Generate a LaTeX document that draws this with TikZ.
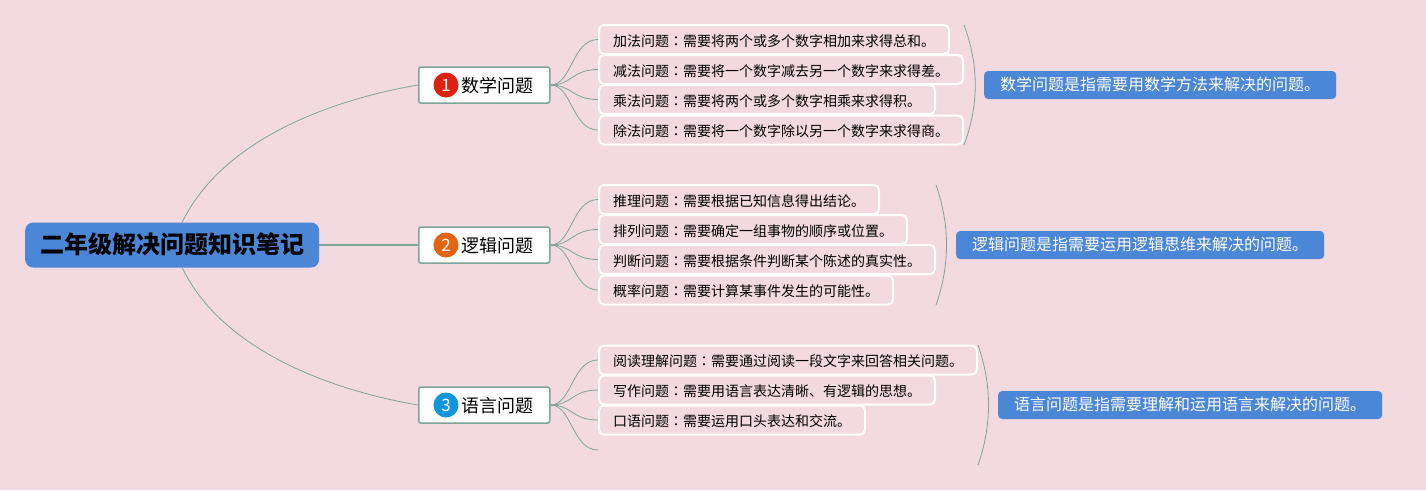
\documentclass[tikz,border=0pt]{standalone}
\usepackage{fontspec}
\setmainfont{Noto Sans CJK SC}
\newfontfamily\tcfont{Noto Sans CJK TC}
\usetikzlibrary{positioning}
\definecolor{bgpink}{HTML}{F3D9E0}
\definecolor{blueroot}{HTML}{4B86D7}
\definecolor{linkgreen}{HTML}{7FA598}
\definecolor{badgered}{HTML}{DD2010}
\definecolor{badgeorange}{HTML}{E4640F}
\definecolor{badgeblue}{HTML}{1296DB}
\newcommand{\cn}{{\tcfont ：}}
\tikzset{root/.style={anchor=west,rounded corners=8pt,fill=blueroot,inner xsep=15pt,inner ysep=0pt,minimum height=45pt,font=\fontsize{24}{28}\selectfont\bfseries,text height=19pt,text depth=3pt}}
\tikzset{branch/.style={anchor=west,rounded corners=2pt,draw=linkgreen,line width=1.5pt,fill=white,inner xsep=16pt,inner ysep=0pt,minimum height=36pt,font=\fontsize{18}{22}\selectfont,text height=17pt,text depth=2pt}}
\tikzset{badge/.style={circle,minimum size=25pt,inner sep=0pt,text=white,font=\fontsize{17}{20}\selectfont}}
\tikzset{leaf/.style={anchor=west,rounded corners=5pt,draw=white,line width=2pt,inner xsep=14pt,inner ysep=0pt,minimum height=29pt,font=\fontsize{14}{17}\selectfont,text height=15pt,text depth=2pt}}
\tikzset{note/.style={anchor=west,rounded corners=4pt,fill=blueroot,text=white,inner xsep=16pt,inner ysep=0pt,minimum height=28pt,font=\fontsize{16}{19}\selectfont,text height=13pt,text depth=2pt}}
\tikzset{link/.style={draw=linkgreen,line width=0.8pt}}

\begin{document}
\begin{tikzpicture}[x=1pt,y=-1pt]
  \path[fill=bgpink,use as bounding box] (0,0) rectangle (1426,490);

  \node[root] (map) at (25,245) {二年级解决问题知识笔记};

  % first group
  \node[branch] (math) at (418,85) {\hspace*{27pt}数学问题};
  \node[badge,fill=badgered] (mathno) at (446,85) {1};
  \node[leaf] (add) at (598,39.5) {加法问题\cn 需要将两个或多个数字相加来求得总和。};
  \node[leaf] (sub) at (598,69.5) {减法问题\cn 需要将一个数字减去另一个数字来求得差。};
  \node[leaf] (mul) at (598,99.5) {乘法问题\cn 需要将两个或多个数字相乘来求得积。};
  \node[leaf] (div) at (598,130) {除法问题\cn 需要将一个数字除以另一个数字来求得商。};
  \coordinate (matha) at (964,25);
  \coordinate (mathb) at (964,145);
  \node[note] (mathnote) at (984,85) {数学问题是指需要用数学方法来解决的问题。};

  % second group
  \node[branch] (logic) at (418,245) {\hspace*{27pt}逻辑问题};
  \node[badge,fill=badgeorange] (logicno) at (446,245) {2};
  \node[leaf] (infer) at (598,199.5) {推理问题\cn 需要根据已知信息得出结论。};
  \node[leaf] (order) at (598,229.5) {排列问题\cn 需要确定一组事物的顺序或位置。};
  \node[leaf] (judge) at (598,259.5) {判断问题\cn 需要根据条件判断某个陈述的真实性。};
  \node[leaf] (prob) at (598,290) {概率问题\cn 需要计算某事件发生的可能性。};
  \coordinate (logica) at (936,185);
  \coordinate (logicb) at (936,305);
  \node[note] (logicnote) at (956,245) {逻辑问题是指需要运用逻辑思维来解决的问题。};

  % third group
  \node[branch] (lang) at (418,405) {\hspace*{27pt}语言问题};
  \node[badge,fill=badgeblue] (langno) at (446,405) {3};
  \node[leaf] (read) at (598,360) {阅读理解问题\cn 需要通过阅读一段文字来回答相关问题。};
  \node[leaf] (write) at (598,390) {写作问题\cn 需要用语言表达清晰、有逻辑的思想。};
  \node[leaf] (oral) at (598,420) {口语问题\cn 需要运用口头表达和交流。};
  \coordinate (blank) at (598,450);
  \coordinate (langa) at (978,345);
  \coordinate (langb) at (978,465);
  \node[note] (langnote) at (998,405) {语言问题是指需要理解和运用语言来解决的问题。};

  \draw[link] ([xshift=10]map.north) .. controls (222,140) and (330,100) .. (math.west);
  \draw[link,line width=1.5pt] (map.east) -- (logic.west);
  \draw[link] ([xshift=10]map.south) .. controls (222,350) and (330,390) .. (lang.west);

  \draw[link] (math.east) .. controls (572,85) and (572,39.5) .. (add.west);
  \draw[link] (math.east) .. controls (572,85) and (572,69.5) .. (sub.west);
  \draw[link] (math.east) .. controls (572,85) and (572,99.5) .. (mul.west);
  \draw[link] (math.east) .. controls (572,85) and (572,130) .. (div.west);

  \draw[link] (logic.east) .. controls (572,245) and (572,199.5) .. (infer.west);
  \draw[link] (logic.east) .. controls (572,245) and (572,229.5) .. (order.west);
  \draw[link] (logic.east) .. controls (572,245) and (572,259.5) .. (judge.west);
  \draw[link] (logic.east) .. controls (572,245) and (572,290) .. (prob.west);

  \draw[link] (lang.east) .. controls (572,405) and (572,360) .. (read.west);
  \draw[link] (lang.east) .. controls (572,405) and (572,390) .. (write.west);
  \draw[link] (lang.east) .. controls (572,405) and (572,420) .. (oral.west);
  \draw[link] (lang.east) .. controls (572,405) and (572,450) .. (blank);

  \draw[link] (matha) .. controls (979,65) and (979,105) .. (mathb);
  \draw[link] (logica) .. controls (950,225) and (950,265) .. (logicb);
  \draw[link] (langa) .. controls (992,385) and (992,425) .. (langb);
\end{tikzpicture}
\end{document}
